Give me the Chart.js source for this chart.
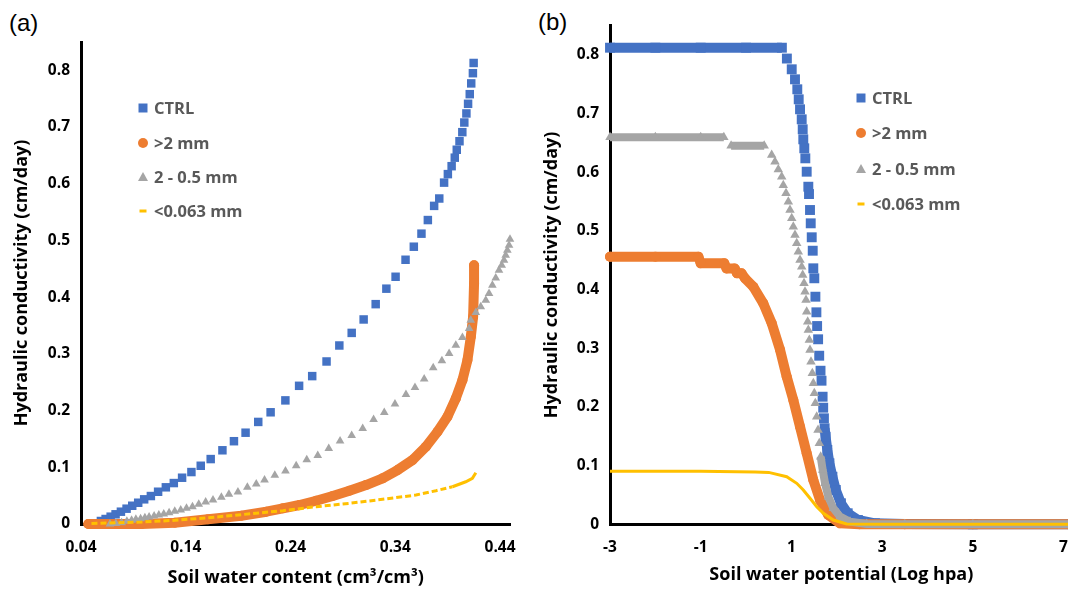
<!DOCTYPE html>
<html><head><meta charset="utf-8">
<script src="https://cdn.jsdelivr.net/npm/chart.js@4"></script>
<style>
html,body{margin:0;padding:0;width:1068px;height:591px;overflow:hidden;background:#fff;}
#wa{position:absolute;left:0;top:0;width:530px;height:591px;}
#wb{position:absolute;left:535px;top:0;width:550px;height:591px;}
.lab{position:absolute;font-family:"Liberation Sans",Arial,sans-serif;font-size:24px;color:#000;line-height:28px;}
</style></head><body>
<div class="lab" style="left:9px;top:9px">(a)</div>
<div class="lab" style="left:538px;top:8px">(b)</div>
<div id="wa"><canvas id="ca" width="530" height="591"></canvas></div>
<div id="wb"><canvas id="cb" width="550" height="591"></canvas></div>
<script>
// ---------- data ----------
const seriesNames = ['CTRL', '>2 mm', '2 - 0.5 mm', '<0.063 mm'];

const yTicks = [0, 0.1, 0.2, 0.3, 0.4, 0.5, 0.6, 0.7, 0.8];
const yTickLabels = ['0', '0.1', '0.2', '0.3', '0.4', '0.5', '0.6', '0.7', '0.8'];
const xTicksA = [0.04, 0.14, 0.24, 0.34, 0.44];
const xTickLabelsA = ['0.04', '0.14', '0.24', '0.34', '0.44'];
const xTicksB = [-3, -1, 1, 3, 5, 7];
const xTickLabelsB = ['-3', '-1', '1', '3', '5', '7'];

// Panel (a): K vs soil water content
const ctrlA_x = [0.050, 0.0543, 0.059, 0.0635, 0.0683, 0.073, 0.0781, 0.0835, 0.0889, 0.0946, 0.1003, 0.1067, 0.1136, 0.121, 0.1286, 0.1365, 0.1454, 0.1543, 0.1638, 0.175, 0.186, 0.1971, 0.2092, 0.221, 0.2351, 0.2482, 0.2607, 0.2744, 0.2866, 0.2984, 0.3098, 0.3213, 0.3315, 0.3403, 0.3498, 0.3577, 0.365, 0.3711, 0.3771, 0.382, 0.3866, 0.3902, 0.3938, 0.3968, 0.3987, 0.4013, 0.404, 0.4059, 0.4079, 0.4095, 0.4111, 0.4125, 0.4141, 0.4148];
const ctrlA_y = [0.0, 0.0012, 0.0053, 0.0088, 0.0129, 0.0171, 0.0217, 0.027, 0.0322, 0.0375, 0.0435, 0.0493, 0.0569, 0.0647, 0.0722, 0.0816, 0.0916, 0.1027, 0.1145, 0.130, 0.146, 0.161, 0.180, 0.197, 0.218, 0.2437, 0.2608, 0.2866, 0.3148, 0.337, 0.3607, 0.3877, 0.415, 0.436, 0.466, 0.489, 0.512, 0.536, 0.561, 0.574, 0.602, 0.617, 0.631, 0.646, 0.660, 0.675, 0.691, 0.708, 0.724, 0.741, 0.758, 0.777, 0.795, 0.813];

const coarseA_x = [0.047, 0.0978, 0.1295, 0.1612, 0.193, 0.2169, 0.2327, 0.2486, 0.2645, 0.2803, 0.2962, 0.3121, 0.3279, 0.3422, 0.3565, 0.3692, 0.3803, 0.3898, 0.3978, 0.4041, 0.4089, 0.4121, 0.4143, 0.4152, 0.4152];
const coarseA_y = [0.0, 0.0, 0.0023, 0.0083, 0.0145, 0.0217, 0.0277, 0.0335, 0.041, 0.0493, 0.0587, 0.0687, 0.0805, 0.0952, 0.1128, 0.1362, 0.1626, 0.1891, 0.2215, 0.2537, 0.289, 0.33, 0.3653, 0.4241, 0.4564];

const mediumA_x = [0.0676, 0.0733, 0.0788, 0.0838, 0.0883, 0.0924, 0.0969, 0.101, 0.105, 0.1098, 0.1143, 0.119, 0.1241, 0.1295, 0.1352, 0.1407, 0.1464, 0.1524, 0.159, 0.166, 0.174, 0.1812, 0.1898, 0.1988, 0.2073, 0.2152, 0.225, 0.2352, 0.2454, 0.2555, 0.266, 0.2765, 0.2873, 0.2984, 0.3089, 0.3193, 0.3295, 0.3397, 0.3502, 0.3588, 0.3676, 0.3762, 0.3845, 0.3914, 0.3978, 0.4041, 0.4105, 0.4121, 0.4169, 0.4216, 0.4264, 0.4295, 0.4327, 0.4359, 0.439, 0.4416, 0.4438, 0.4454, 0.447, 0.4486, 0.4495];
const mediumA_y = [0.0, 0.001, 0.0023, 0.0048, 0.0065, 0.0083, 0.0093, 0.0111, 0.0123, 0.0141, 0.0159, 0.0176, 0.0199, 0.0224, 0.0247, 0.0277, 0.0305, 0.0347, 0.0388, 0.0423, 0.047, 0.0523, 0.0564, 0.0647, 0.0705, 0.0775, 0.0858, 0.0934, 0.1027, 0.1133, 0.121, 0.1333, 0.1463, 0.1562, 0.1686, 0.1845, 0.1968, 0.2115, 0.2285, 0.2409, 0.2555, 0.2754, 0.2878, 0.3008, 0.3154, 0.329, 0.3448, 0.3595, 0.373, 0.3829, 0.3947, 0.4065, 0.4211, 0.434, 0.4476, 0.4564, 0.4652, 0.474, 0.4828, 0.4916, 0.502];

const fineA_x = [0.05, 0.0978, 0.1295, 0.1612, 0.193, 0.2327, 0.2645, 0.2962, 0.3279, 0.3597, 0.3788, 0.3946, 0.4073, 0.4136, 0.4169];
const fineA_y = [0.001, 0.0035, 0.0065, 0.011, 0.0165, 0.0235, 0.0305, 0.0365, 0.0435, 0.0511, 0.0587, 0.0657, 0.0745, 0.0805, 0.0904];

// Panel (b): K vs soil water potential (log hPa)
const ctrlB_x = [-3, -2, -1, 0, 0.79, 0.90, 1.007, 1.079, 1.130, 1.161, 1.19, 1.227, 1.249, 1.262, 1.284, 1.307, 1.337, 1.373, 1.388, 1.41, 1.426, 1.448, 1.470, 1.483, 1.505, 1.529, 1.551, 1.567, 1.589, 1.613, 1.642, 1.664, 1.688, 1.701, 1.717, 1.732, 1.754, 1.792, 1.838, 1.904, 1.979, 2.092, 2.241, 2.466, 2.841, 3.5, 5, 7.2];
const ctrlB_y = [0.8125, 0.8125, 0.8125, 0.8125, 0.8125, 0.794, 0.7757, 0.7586, 0.7416, 0.7245, 0.7075, 0.6904, 0.6734, 0.6563, 0.641, 0.6239, 0.6011, 0.5755, 0.563, 0.5358, 0.5131, 0.4893, 0.4664, 0.4364, 0.4194, 0.388, 0.3614, 0.338, 0.3154, 0.2874, 0.2618, 0.2448, 0.2175, 0.1988, 0.1807, 0.1637, 0.1493, 0.1267, 0.104, 0.0811, 0.0585, 0.0358, 0.0188, 0.0073, 0.0017, 0.0005, 0, 0];

const coarseB_x = [-3, -2, -1.05, -1.0, -0.48, -0.43, -0.25, -0.2, -0.1, -0.02, 0.160, 0.380, 0.566, 0.749, 0.896, 1.042, 1.19, 1.337, 1.483, 1.631, 1.814, 2.072, 2.5, 3.5, 5, 7.2];
const coarseB_y = [0.456, 0.456, 0.456, 0.445, 0.445, 0.436, 0.436, 0.428, 0.428, 0.419, 0.405, 0.3767, 0.3427, 0.2976, 0.2516, 0.2119, 0.1664, 0.121, 0.0755, 0.0414, 0.0159, 0.0017, 0, 0, 0, 0];

const mediumB_x = [-3, -2, -1, -0.49, -0.33, 0.40, 0.565, 0.638, 0.711, 0.786, 0.821, 0.881, 0.932, 0.969, 1.007, 1.042, 1.079, 1.117, 1.152, 1.19, 1.227, 1.249, 1.278, 1.30, 1.322, 1.337, 1.359, 1.373, 1.395, 1.41, 1.432, 1.461, 1.483, 1.505, 1.527, 1.558, 1.587, 1.615, 1.646, 1.69, 1.741, 1.814, 1.924, 2.072, 2.292, 2.66, 3.5, 5, 7.2];
const mediumB_y = [0.6597, 0.6597, 0.6597, 0.6597, 0.6454, 0.6454, 0.6295, 0.618, 0.605, 0.5926, 0.578, 0.5643, 0.55, 0.5358, 0.5216, 0.5073, 0.4932, 0.479, 0.4647, 0.4506, 0.4391, 0.425, 0.4108, 0.3965, 0.3823, 0.3624, 0.3454, 0.3312, 0.3142, 0.2972, 0.2772, 0.2574, 0.2404, 0.2233, 0.2063, 0.1834, 0.1608, 0.1381, 0.1152, 0.0926, 0.0699, 0.047, 0.0273, 0.013, 0.0044, 0.0005, 0, 0, 0];

const fineB_x = [-3, -1, 0.2, 0.5, 0.896, 1.117, 1.262, 1.41, 1.558, 1.705, 1.924, 2.218, 3, 5, 7.2];
const fineB_y = [0.0905, 0.0905, 0.089, 0.0885, 0.0811, 0.0699, 0.0585, 0.0443, 0.03, 0.0188, 0.0073, 0.0005, 0, 0, 0];

// ---------- styling ----------
const BLUE = '#4472C4', ORANGE = '#ED7D31', GRAY = '#A5A5A5', YELLOW = '#FFC000';
const FONT = '"Open Sans", "DejaVu Sans", sans-serif';
const pts = (xs, ys) => xs.map((x, i) => ({x: x, y: ys[i]}));
const NONE = 'rgba(0,0,0,0)';

// band drawn only between markers that overlap in the reference (flat runs / dense tail)
function bandSeg(color, ys, denseBelow) {
  return {
    borderColor: c => {
      const a = ys[c.p0DataIndex], b = ys[c.p1DataIndex];
      return (a === b || b < denseBelow) ? color : NONE;
    }
  };
}

function drawMarker(ctx, kind, x, y, color) {
  ctx.save();
  ctx.fillStyle = color;
  ctx.beginPath();
  if (kind === 'rect') ctx.rect(x - 4.5, y - 4.5, 9, 9);
  else if (kind === 'circle') ctx.arc(x, y, 5, 0, Math.PI * 2);
  else if (kind === 'triangle') { ctx.moveTo(x, y - 5); ctx.lineTo(x + 5, y + 4); ctx.lineTo(x - 5, y + 4); ctx.closePath(); }
  else ctx.rect(x - 3.5, y - 1.5, 7, 3);
  ctx.fill();
  ctx.restore();
}

function legendPlugin(mx, tx, ys) {
  const kinds = ['rect', 'circle', 'triangle', 'dash'];
  const cols = [BLUE, ORANGE, GRAY, YELLOW];
  return {
    id: 'customLegend',
    afterDraw(chart) {
      const ctx = chart.ctx;
      ctx.save();
      ctx.font = 'bold 16.5px ' + FONT;
      ctx.fillStyle = '#595959';
      ctx.textBaseline = 'middle';
      ctx.textAlign = 'left';
      seriesNames.forEach((n, i) => {
        drawMarker(ctx, kinds[i], mx, ys[i], cols[i]);
        ctx.fillText(n, tx, ys[i] + 1);
      });
      ctx.restore();
    }
  };
}

function yScale(max, width, titlePad) {
  return {
    type: 'linear', min: 0, max: max,
    afterBuildTicks: s => { s.ticks = yTicks.map(v => ({value: v})); },
    afterFit: s => { s.width = width; },
    ticks: { callback: (v, i) => yTickLabels[i], font: {family: FONT, size: 15.5, weight: 'bold'}, color: '#000', padding: 11, autoSkip: false },
    grid: { display: false, drawTicks: false },
    border: { display: true, color: '#000', width: 3 },
    title: { display: true, text: 'Hydraulic conductivity (cm/day)', color: '#000', font: {family: FONT, size: 18, weight: 'bold'}, padding: {top: titlePad, bottom: 0} }
  };
}
function xScale(min, max, ticks, labels, title, height, titlePad) {
  return {
    type: 'linear', min: min, max: max,
    afterBuildTicks: s => { s.ticks = ticks.map(v => ({value: v})); },
    afterFit: s => { s.height = height; },
    ticks: { callback: (v, i) => labels[i], font: {family: FONT, size: 15.5, weight: 'bold'}, color: '#000', padding: 14, maxRotation: 0, autoSkip: false },
    grid: { display: false, drawTicks: false },
    border: { display: true, color: '#000', width: 3 },
    title: { display: true, text: title, color: '#000', font: {family: FONT, size: 18, weight: 'bold'}, padding: {top: 0, bottom: titlePad} }
  };
}
const common = {
  responsive: false, animation: false, devicePixelRatio: 1, events: [],
  plugins: { legend: {display: false}, tooltip: {enabled: false} }
};

// ---------- panel (a) ----------
new Chart(document.getElementById('ca'), {
  type: 'scatter',
  data: { datasets: [
    { label: seriesNames[0], data: pts(ctrlA_x, ctrlA_y), order: 4, clip: false,
      pointStyle: 'rect', pointRadius: 6, pointBackgroundColor: BLUE, pointBorderWidth: 0, showLine: false },
    { label: seriesNames[1], data: pts(coarseA_x, coarseA_y), order: 3, clip: false,
      pointStyle: 'circle', pointRadius: 5, pointBackgroundColor: ORANGE, pointBorderWidth: 0,
      showLine: true, borderColor: ORANGE, borderWidth: 10, borderCapStyle: 'round', borderJoinStyle: 'round', tension: 0 },
    { label: seriesNames[2], data: pts(mediumA_x, mediumA_y), order: 2, clip: false,
      pointStyle: 'triangle', pointRadius: 5, pointBackgroundColor: GRAY, pointBorderWidth: 0, showLine: false },
    { label: seriesNames[3], data: pts(fineA_x, fineA_y), order: 1, clip: false,
      pointRadius: 0, showLine: true, borderColor: YELLOW, borderWidth: 3, borderDash: [6, 3], tension: 0,
      segment: { borderDash: c => fineA_x[c.p0DataIndex] >= 0.39 ? [] : [6, 3] } }
  ]},
  options: Object.assign({}, common, {
    layout: { padding: {left: 0, top: 42, right: 19, bottom: 0} },
    scales: {
      x: xScale(0.04, 0.45, xTicksA, xTickLabelsA, 'Soil water content (cm³/cm³)', 67, 2),
      y: yScale(0.85, 81, 11)
    }
  }),
  plugins: [legendPlugin(143, 154, [108, 143, 177, 211])]
});

// ---------- panel (b) ----------
new Chart(document.getElementById('cb'), {
  type: 'scatter',
  data: { datasets: [
    { label: seriesNames[0], data: pts(ctrlB_x, ctrlB_y), order: 4, clip: false,
      pointStyle: 'rect', pointRadius: 7, pointBackgroundColor: BLUE, pointBorderWidth: 0,
      showLine: true, borderColor: BLUE, borderWidth: 10, borderCapStyle: 'butt', tension: 0,
      segment: bandSeg(BLUE, ctrlB_y, 0.155) },
    { label: seriesNames[1], data: pts(coarseB_x, coarseB_y), order: 3, clip: false,
      pointStyle: 'circle', pointRadius: 5, pointBackgroundColor: ORANGE, pointBorderWidth: 0,
      showLine: true, borderColor: ORANGE, borderWidth: 10, borderCapStyle: 'round', borderJoinStyle: 'round', tension: 0 },
    { label: seriesNames[2], data: pts(mediumB_x, mediumB_y), order: 2, clip: false,
      pointStyle: 'triangle', pointRadius: 5.5, pointBackgroundColor: GRAY, pointBorderWidth: 0,
      showLine: true, borderColor: GRAY, borderWidth: 8, borderCapStyle: 'butt', tension: 0,
      segment: bandSeg(GRAY, mediumB_y, 0.1) },
    { label: seriesNames[3], data: pts(fineB_x, fineB_y), order: 1, clip: false,
      pointRadius: 0, showLine: true, borderColor: YELLOW, borderWidth: 3, tension: 0 }
  ]},
  options: Object.assign({}, common, {
    layout: { padding: {left: 0, top: 25.7, right: 12.4, bottom: 0} },
    scales: {
      x: xScale(-3, 7.2, xTicksB, xTickLabelsB, 'Soil water potential (Log hpa)', 66.7, 5),
      y: yScale(0.85, 75, 6)
    }
  }),
  plugins: [legendPlugin(326, 337, [98, 133, 169, 204])]
});
</script>
</body></html>
